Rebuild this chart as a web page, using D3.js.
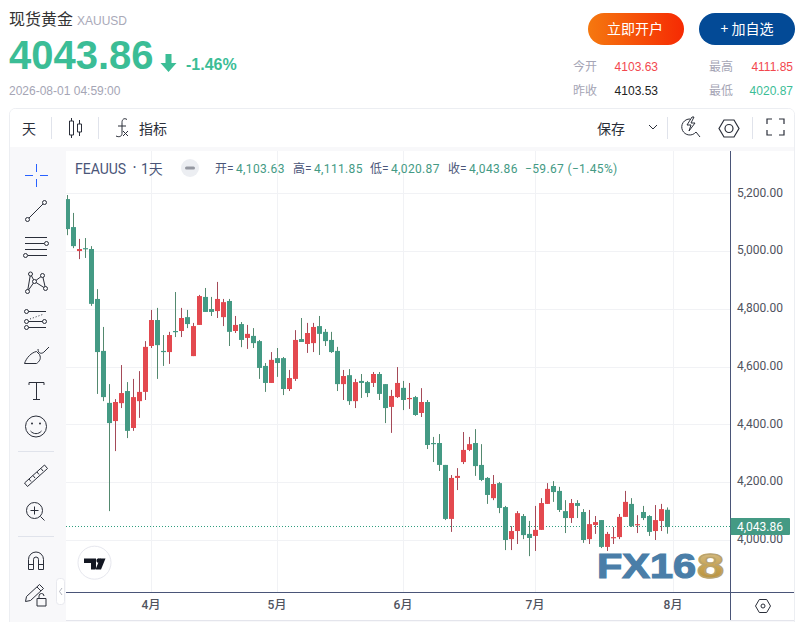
<!DOCTYPE html>
<html>
<head>
<meta charset="utf-8">
<title>现货黄金</title>
<script src="https://cdn.jsdelivr.net/npm/d3@7"></script>
<style>
	html, body { margin: 0; padding: 0; background: #fff; overflow: hidden; }
	svg { display: block; }
	text { font-family: "Liberation Sans", "Noto Sans CJK SC", sans-serif; }
	.tv text { font-family: Roboto, "Noto Sans CJK SC", sans-serif; }
	.cjk { font-family: "Noto Sans CJK SC", sans-serif; }
</style>
</head>
<body>
<div id="chart"></div>
<script>
// daily bars
var opens = [5180,5083,5000,5010,5007,4834,4654,4474,4411,4473,4515,4387,4480,4512,4671,4761,4654,4650,4723,4723,
	4771,4636,4744,4841,4799,4792,4771,4827,4723,4747,4699,4706,4688,4602,4543,4629,4629,4522,4557,4695,
	4678,4681,4740,4720,4692,4654,4539,4570,4480,4550,4546,4543,4574,4539,4460,4494,4526,4487,4494,4439,
	4477,4335,4335,4259,4072,4214,4269,4311,4335,4259,4214,4144,4196,4113,4002,4030,4082,4020,4013,4034,
	4124,4186,4169,4099,4075,4127,4096,4002,4051,4068,3975,4006,4009,4079,4124,4051,4096,4082,4030,4065,4103.63];
var highs = [5194,5132,5042,5045,5017,4868,4737,4539,4487,4605,4546,4557,4584,4688,4796,4803,4709,4720,4858,4803,
	4796,4751,4848,4872,4841,4893,4834,4834,4775,4754,4744,4733,4692,4612,4650,4664,4633,4588,4726,4768,
	4751,4751,4775,4730,4720,4668,4588,4591,4557,4574,4550,4581,4581,4539,4519,4598,4550,4543,4498,4525,
	4484,4356,4366,4259,4224,4248,4373,4356,4383,4331,4217,4224,4200,4117,4047,4099,4089,4065,4117,4144,
	4196,4203,4183,4137,4141,4137,4106,4103,4082,4068,4027,4044,4089,4169,4144,4085,4117,4085,4120,4124,4111.85];
var lows = [5055,5010,4972,4976,4810,4505,4480,4099,4307,4456,4352,4377,4422,4484,4664,4557,4602,4609,4702,4702,
	4733,4636,4744,4789,4775,4768,4740,4671,4716,4667,4661,4664,4557,4512,4543,4564,4501,4515,4550,4685,
	4647,4650,4640,4671,4647,4515,4484,4467,4456,4491,4494,4529,4484,4404,4370,4491,4449,4453,4429,4425,
	4314,4269,4238,4068,4027,4172,4262,4307,4221,4203,4124,4137,4092,3964,3964,3985,4002,3943,3961,4034,
	4124,4131,4096,4023,4058,4075,3989,3985,4020,3971,3961,3985,4002,4079,4044,4023,4068,4013,3999,4030,4020.87];
var closes = [5076,5017,5007,5007,4817,4650,4494,4404,4477,4508,4377,4494,4512,4668,4761,4674,4650,4709,4720,4768,
	4747,4740,4844,4789,4789,4834,4823,4720,4744,4692,4713,4681,4595,4543,4623,4612,4522,4560,4692,4685,
	4716,4737,4713,4688,4650,4539,4567,4480,4546,4543,4508,4574,4505,4456,4498,4543,4484,4491,4432,4477,
	4328,4331,4259,4072,4214,4221,4311,4331,4255,4207,4155,4193,4110,3999,4030,4092,4016,4006,4034,4127,
	4176,4165,4103,4075,4127,4117,3999,4054,4061,3975,4020,4009,4079,4131,4047,4054,4075,4027,4068,4106,4043.86];
var priceTicks = [4000,4200,4400,4600,4800,5000,5200];
var monthIndex = [14,35,56,78,101];
var monthLabels = ["4月","5月","6月","7月","8月"];
var lastPrice = 4043.86;

var width = 805, height = 622;
var plotLeft = 66, plotRight = 730, plotTop = 151, plotBottom = 592;
var greenBody = "#449a84", greenWick = "#54896f", redBody = "#e3494f", redWick = "#a54a58";
var inkDark = "#2a2e39", axisBlue = "#4a5578";

var svg = d3.select("#chart").append("svg")
	.attr("width", width)
	.attr("height", height);

var defs = svg.append("defs");
var btnGrad = defs.append("linearGradient").attr("id", "btnGrad");
btnGrad.append("stop").attr("offset", "0%").attr("stop-color", "#f5780f");
btnGrad.append("stop").attr("offset", "100%").attr("stop-color", "#f62a03");
var goldGrad = defs.append("linearGradient").attr("id", "goldGrad").attr("x1", 0).attr("y1", 0).attr("x2", 0).attr("y2", 1);
goldGrad.append("stop").attr("offset", "0%").attr("stop-color", "#d8c59a");
goldGrad.append("stop").attr("offset", "55%").attr("stop-color", "#c8a24e");
goldGrad.append("stop").attr("offset", "100%").attr("stop-color", "#b08a3a");
defs.append("clipPath").attr("id", "plotClip").append("rect")
	.attr("x", plotLeft).attr("y", plotTop)
	.attr("width", plotRight - plotLeft).attr("height", plotBottom - plotTop);

function label(parent, x, y, str, size, fill, anchor, weight){
	return parent.append("text")
		.attr("x", x)
		.attr("y", y)
		.attr("font-size", size)
		.attr("fill", fill)
		.attr("text-anchor", anchor || "start")
		.attr("font-weight", weight || "normal")
		.text(str);
}

// quote header
var header = svg.append("g");
label(header, 9, 25, "现货黄金", 16, "#333").attr("class", "cjk");
label(header, 77, 25, "XAUUSD", 12, "#a9a9b8");
label(header, 9, 69, "4043.86", 40, "#3bbd96", "start", "bold");
header.append("path")
	.attr("d", "M165.5,54h6v9h5l-8,9l-8,-9h5z")
	.attr("fill", "#3bbd96");
label(header, 186, 70, "-1.46%", 16, "#3bbd96", "start", "bold");
label(header, 9, 95, "2026-08-01 04:59:00", 12, "#a5a5b5");

header.append("rect").attr("x", 588).attr("y", 13).attr("width", 96).attr("height", 32).attr("rx", 16).attr("fill", "url(#btnGrad)");
header.append("rect").attr("x", 699).attr("y", 13).attr("width", 96).attr("height", 32).attr("rx", 16).attr("fill", "#034a96");
label(header, 635, 34, "立即开户", 14, "#fff", "middle").attr("class", "cjk");
label(header, 747, 34, "+ 加自选", 14, "#fff", "middle").attr("class", "cjk");

label(header, 573, 71, "今开", 12, "#a5a5b5").attr("class", "cjk");
label(header, 573, 95, "昨收", 12, "#a5a5b5").attr("class", "cjk");
label(header, 709, 71, "最高", 12, "#a5a5b5").attr("class", "cjk");
label(header, 709, 95, "最低", 12, "#a5a5b5").attr("class", "cjk");
label(header, 658, 71, "4103.63", 12, "#f2474e", "end");
label(header, 658, 95, "4103.53", 12, "#222", "end");
label(header, 793, 71, "4111.85", 12, "#f2474e", "end");
label(header, 793, 95, "4020.87", 12, "#3bbd96", "end");

// panel frame
var panel = svg.append("g").attr("class", "tv");
panel.append("rect")
	.attr("x", 9.5).attr("y", 108.5)
	.attr("width", 785).attr("height", 530).attr("rx", 6)
	.attr("fill", "#f8f8fa").attr("stroke", "#eceef2");
panel.append("path")
	.attr("d", "M10,147V114a5,5 0 0 1 5,-5H789a5,5 0 0 1 5,5V147z")
	.attr("fill", "#fff");
panel.append("rect")
	.attr("x", plotLeft).attr("y", plotTop)
	.attr("width", 794 - plotLeft).attr("height", 620 - plotTop)
	.attr("fill", "#fff");
svg.append("rect").attr("x", 0).attr("y", 622).attr("width", width).attr("height", 10).attr("fill", "#fff");

// top toolbar
var topBar = panel.append("g");
label(topBar, 22, 134, "天", 14, inkDark).attr("class", "cjk");
label(topBar, 139, 134, "指标", 14, inkDark).attr("class", "cjk");
label(topBar, 597, 134, "保存", 14, inkDark).attr("class", "cjk");
[51.5, 98.5, 667.5, 752.5].forEach(function(x){
	topBar.append("line").attr("x1", x).attr("x2", x).attr("y1", 117).attr("y2", 139).attr("stroke", "#e0e3eb");
});
var iconStroke = function(sel){
	return sel.attr("fill", "none").attr("stroke", inkDark).attr("stroke-width", 1);
};
iconStroke(topBar.append("path")).attr("d", "M71.5,118v3M71.5,135v3M69.5,121h4v14h-4zM79.5,120v4M79.5,132v4M77.5,124h4v8h-4z");
iconStroke(topBar.append("path")).attr("d", "M127,119.5c-3,-2 -5,0 -5,3v11c0,3 -3,4 -6,2.5M118,126h8M123,131l5,5M128,131l-5,5");
iconStroke(topBar.append("path")).attr("d", "M649,125l4,4l4,-4");
iconStroke(topBar.append("path")).attr("d", "M690,119a8,8 0 1 0 6,13l4,5M692,117l-5,8h4l-2,6l6,-8h-4l3,-6z");
iconStroke(topBar.append("path")).attr("d", "M719,128.5l5,-8.5h10l5,8.5l-5,8.5h-10zM733,128.5a4,4 0 1 1 -8,0a4,4 0 1 1 8,0z").attr("stroke-width", 1.2);
iconStroke(topBar.append("path")).attr("d", "M767,124v-5h5M779,119h5v5M784,130v5h-5M772,135h-5v-5").attr("stroke-width", 1.2);

// scales
var xScale = d3.scaleLinear().domain([0, 101]).range([67.5, 673.5]);
var yScale = d3.scaleLinear().domain([4000, 5200]).range([539.7, 193.3]);

// grid
var grid = panel.append("g");
grid.selectAll("line.h").data(priceTicks).join("line")
	.attr("class", "h")
	.attr("x1", plotLeft).attr("x2", plotRight)
	.attr("y1", function(d){ return Math.round(yScale(d)) + 0.5; })
	.attr("y2", function(d){ return Math.round(yScale(d)) + 0.5; })
	.attr("stroke", "#f1f2f5");
grid.selectAll("line.v").data(monthIndex).join("line")
	.attr("class", "v")
	.attr("x1", function(d){ return Math.floor(xScale(d)) + 0.5; })
	.attr("x2", function(d){ return Math.floor(xScale(d)) + 0.5; })
	.attr("y1", plotTop).attr("y2", plotBottom)
	.attr("stroke", "#f1f2f5");

// last price dotted line
panel.append("line")
	.attr("x1", plotLeft).attr("x2", plotRight)
	.attr("y1", Math.floor(yScale(lastPrice)) - 0.5)
	.attr("y2", Math.floor(yScale(lastPrice)) - 0.5)
	.attr("stroke", "#2f9e7f")
	.attr("stroke-dasharray", "1 2");

// candles
var candles = panel.append("g").attr("clip-path", "url(#plotClip)");
var bars = candles.selectAll("g").data(d3.range(opens.length)).join("g");
bars.append("line")
	.attr("x1", function(i){ return Math.floor(xScale(i)) + 0.5; })
	.attr("x2", function(i){ return Math.floor(xScale(i)) + 0.5; })
	.attr("y1", function(i){ return yScale(highs[i]); })
	.attr("y2", function(i){ return yScale(lows[i]); })
	.attr("stroke-width", 1)
	.attr("stroke", function(i){ return closes[i] >= opens[i] ? redWick : greenWick; });
bars.append("rect")
	.attr("x", function(i){ return Math.floor(xScale(i)) - 2; })
	.attr("width", 5)
	.attr("y", function(i){ return yScale(Math.max(opens[i], closes[i])); })
	.attr("height", function(i){ return Math.max(1.2, Math.abs(yScale(opens[i]) - yScale(closes[i]))); })
	.attr("fill", function(i){ return closes[i] >= opens[i] ? redBody : greenBody; });

// legend row
var legend = panel.append("g");
label(legend, 75, 174, "FEAUUS", 14, axisBlue);
label(legend, 133, 170, "•", 9, axisBlue);
label(legend, 141, 174, "1天", 14, axisBlue);
legend.append("circle").attr("cx", 190).attr("cy", 168).attr("r", 9).attr("fill", "#eceef2");
legend.append("rect").attr("x", 185).attr("y", 166.5).attr("width", 10).attr("height", 3).attr("rx", 1.5).attr("fill", "#9598a1");
[[215, "开", "=", "4,103.63"], [293, "高", "=", "4,111.85"], [370, "低", "=", "4,020.87"], [448, "收", "=", "4,043.86"]].forEach(function(p){
	label(legend, p[0], 173, p[1] + p[2], 12, axisBlue);
	label(legend, p[0] + 21, 173, p[3], 12, greenBody).attr("letter-spacing", 0.35);
});
label(legend, 525, 173, "−59.67 (−1.45%)", 12, greenBody).attr("letter-spacing", 0.35);

// price axis
var yAxis = d3.axisRight(yScale)
	.tickValues(priceTicks)
	.tickFormat(d3.format(",.2f"))
	.tickSize(0)
	.tickPadding(7);
var yAxisGroup = panel.append("g")
	.attr("transform", "translate(" + plotRight + ",-1)")
	.call(yAxis);
yAxisGroup.select(".domain").remove();
yAxisGroup.selectAll("text").attr("font-size", 12).attr("fill", "#50535e")
	.style("font-family", "Roboto, sans-serif");

// time axis
var xAxis = d3.axisBottom(xScale)
	.tickValues(monthIndex)
	.tickFormat(function(d, i){ return monthLabels[i]; })
	.tickSize(0)
	.tickPadding(8);
var xAxisGroup = panel.append("g")
	.attr("transform", "translate(-1," + plotBottom + ")")
	.call(xAxis);
xAxisGroup.select(".domain").remove();
xAxisGroup.selectAll("text").attr("font-size", 12).attr("fill", "#50535e")
	.attr("font-weight", 500)
	.style("font-family", "Roboto, 'Noto Sans CJK SC', sans-serif");

panel.append("line").attr("x1", plotLeft).attr("x2", 794).attr("y1", plotBottom + 0.5).attr("y2", plotBottom + 0.5).attr("stroke", axisBlue);
panel.append("line").attr("x1", plotRight + 0.5).attr("x2", plotRight + 0.5).attr("y1", plotTop).attr("y2", 620).attr("stroke", axisBlue);
panel.append("line").attr("x1", plotLeft).attr("x2", 794).attr("y1", 620.5).attr("y2", 620.5).attr("stroke", "#e4e5ec");
iconStroke(panel.append("path"))
	.attr("d", "M755.5,606l3.8,-6.5h7.4l3.8,6.5l-3.8,6.5h-7.4zM765,606a2,2 0 1 1 -4,0a2,2 0 1 1 4,0z");

// last price tag
panel.append("rect").attr("x", plotRight + 0.5).attr("y", Math.round(yScale(lastPrice)) - 9).attr("width", 59.5).attr("height", 17).attr("rx", 1).attr("fill", greenBody);
label(panel, plotRight + 7, yScale(lastPrice) + 4, d3.format(",.2f")(lastPrice), 12, "#fff");

// drawing tools on the left
var tools = panel.append("g");
var blue = "#2962ff";
tools.append("path").attr("d", "M25,175.5h8M40,175.5h8M36.5,164v8M36.5,179v8").attr("stroke", blue).attr("fill", "none");
function toolPath(d){
	iconStroke(tools.append("path")).attr("d", d);
}
function toolDot(x, y, r){
	iconStroke(tools.append("circle")).attr("cx", x).attr("cy", y).attr("r", r || 2).attr("fill", "#f8f8fa");
}
toolPath("M29,218l14,-14");
toolDot(27.5, 219.5); toolDot(44.5, 202.5);
toolPath("M25,237.5h22M25,243.5h19M25,249.5h22M28,255.5h19");
toolDot(46.5, 243.5); toolDot(25.5, 255.5);
toolPath("M30.5,274l-3,17.5M30.5,274l4,7.5M34.5,281.5l8,-6M42.5,275.5l3,13M34.5,281.5l11,7M34.5,281.5l-7,10");
toolDot(30.5, 274); toolDot(42.5, 275.5); toolDot(34.5, 281.5); toolDot(27.5, 291.5); toolDot(45.5, 288.5);
toolPath("M28,311.5h18M28,321.5h16M28,327.5h18");
tools.append("path").attr("d", "M30,319l14,-5").attr("stroke", inkDark).attr("stroke-dasharray", "1 2").attr("fill", "none");
toolDot(26.5, 311.5); toolDot(26.5, 321.5); toolDot(44.5, 321.5); toolDot(26.5, 327.5);
toolPath("M24.5,363.5h12c3,-2 5,-5 3,-9l-3,-3c-5,1 -10,6 -12,12M38,349c0,5 4,5 6,3l5,-5");
toolPath("M29,385v-2.5h15v2.5M36.5,382.5v16.5M33,399.5h7");
toolPath("M46.5,426.5a10.5,10.5 0 1 1 -21,0a10.5,10.5 0 1 1 21,0zM30.5,431c3,3.5 8,3.5 11,0");
tools.append("circle").attr("cx", 32).attr("cy", 423.5).attr("r", 1).attr("fill", inkDark);
tools.append("circle").attr("cx", 40).attr("cy", 423.5).attr("r", 1).attr("fill", inkDark);
tools.append("line").attr("x1", 18).attr("x2", 54).attr("y1", 451.5).attr("y2", 451.5).attr("stroke", "#e0e3eb");
toolPath("M24.5,483l20,-18l3,3.5l-20,18zM29,479l2,2.5M33,475.5l2,2.5M37,472l2,2.5M41,468.5l2,2.5");
toolPath("M42.5,510.5a8,8 0 1 1 -16,0a8,8 0 1 1 16,0zM40.5,516.5l4,4M34.5,506.5v8M30.5,510.5h8");
tools.append("line").attr("x1", 18).attr("x2", 54).attr("y1", 536.5).attr("y2", 536.5).attr("stroke", "#e0e3eb");
toolPath("M28.5,569.5v-10a7.5,7.5 0 0 1 15,0v10h-5v-10a2.5,2.5 0 0 0 -5,0v10zM28.5,564.5h5M38.5,564.5h5");
toolPath("M25.5,601.5l1,-5l13,-12l4,4l-13,12zM37,587l4,4");
toolPath("M37,598.5h9v7.5h-9zM39,598.5v-2.5a2.5,2.5 0 0 1 5,0");
panel.append("rect").attr("x", 56.5).attr("y", 578.5).attr("width", 8).attr("height", 26).attr("rx", 3).attr("fill", "#fff").attr("stroke", "#e8e9ee");
panel.append("path").attr("d", "M62,588l-2.5,3.5l2.5,3.5").attr("fill", "none").attr("stroke", "#b2b5be");

// tradingview badge
panel.append("circle").attr("cx", 94.5).attr("cy", 562.7).attr("r", 16.5).attr("fill", "#fff").attr("stroke", "#e6e7ee");
panel.append("path")
	.attr("d", "M84,558.5h12v11h-5v-6.5h-7zM99.5,563a2.4,2.4 0 1 0 0,-4.6a2.4,2.4 0 1 0 0,4.6zM101,569.5l4.5,-11h-5.5l-4.5,11z")
	.attr("fill", "#131722");

// watermark
var mark = svg.append("g").attr("font-weight", "bold");
label(mark, 597, 578, "FX16", 35, "#4a7ea8", "start", "bold")
	.attr("textLength", 99)
	.attr("lengthAdjust", "spacingAndGlyphs")
	.attr("stroke", "#4a7ea8")
	.attr("stroke-width", 1.2);
label(mark, 697, 578, "8", 35, "url(#goldGrad)", "start", "bold")
	.attr("textLength", 27)
	.attr("lengthAdjust", "spacingAndGlyphs")
	.attr("stroke", "#b9a36e")
	.attr("stroke-width", 1.4);
</script>
</body>
</html>
